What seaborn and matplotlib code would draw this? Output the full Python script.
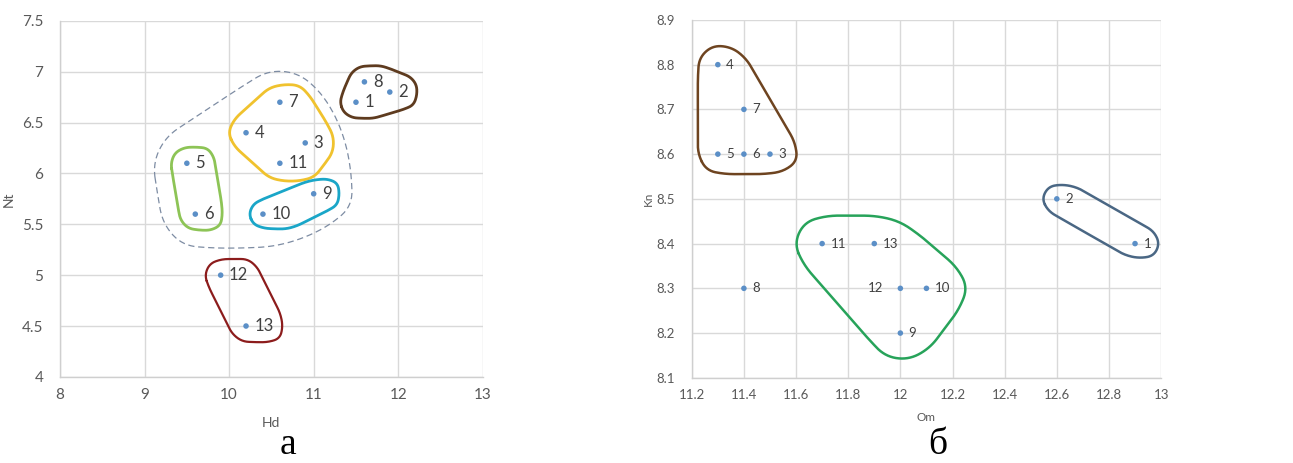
import numpy as np
import pandas as pd
import matplotlib
matplotlib.use("Agg")
import matplotlib.pyplot as plt
import seaborn as sns

# point numbers
ids = list(range(1, 14))

# chart a: Hd vs Nt
hd = [11.5, 11.9, 10.9, 10.2, 9.5, 9.6, 10.6, 11.6, 11.0, 10.4, 10.6, 9.9, 10.2]
nt = [6.7, 6.8, 6.3, 6.4, 6.1, 5.6, 6.7, 6.9, 5.8, 5.6, 6.1, 5.0, 4.5]

# chart b: Om vs Kn
om = [12.9, 12.6, 11.5, 11.3, 11.3, 11.4, 11.4, 11.4, 12.0, 12.1, 11.7, 12.0, 11.9]
kn = [8.4, 8.5, 8.6, 8.8, 8.6, 8.6, 8.7, 8.3, 8.2, 8.3, 8.4, 8.3, 8.4]

# clusters: members, colour, linestyle, linewidth, padding (px)
groups_a = [
    ([3, 4, 5, 6, 7, 9, 10, 11], "#7d8ca3", (0, (5, 3)), 0.9, 34),
    ([1, 2, 8], "#5e3b1f", "-", 2.0, 16),
    ([3, 4, 7, 11], "#f0c22e", "-", 2.0, 18),
    ([5, 6], "#8dc456", "-", 2.0, 16),
    ([9, 10], "#1aa6c8", "-", 2.0, 14),
    ([12, 13], "#8c1c1c", "-", 1.6, 16),
]
groups_b = [
    ([3, 4, 5, 6, 7], "#6e4420", "-", 1.8, 20),
    ([1, 2], "#4a6784", "-", 1.8, 15),
    ([9, 10, 11, 12, 13], "#27a35a", "-", 1.8, 28),
]

df_a = pd.DataFrame({"id": ids, "Hd": hd, "Nt": nt})
df_b = pd.DataFrame({"id": ids, "Om": om, "Kn": kn})

sns.set_theme(style="whitegrid")
plt.rcParams["font.family"] = ["Lato", "DejaVu Sans"]

tick_col = "#595959"
grid_col = "#d9d9d9"
dot_col = "#5b8fc7"


def hull(pts):
    pts = sorted(set(map(tuple, np.round(pts, 3))))
    def cross(o, a, b):
        return (a[0] - o[0]) * (b[1] - o[1]) - (a[1] - o[1]) * (b[0] - o[0])
    lower = []
    for p in pts:
        while len(lower) >= 2 and cross(lower[-2], lower[-1], p) <= 0:
            lower.pop()
        lower.append(p)
    upper = []
    for p in reversed(pts):
        while len(upper) >= 2 and cross(upper[-2], upper[-1], p) <= 0:
            upper.pop()
        upper.append(p)
    return np.array(lower[:-1] + upper[:-1])


def smooth(poly, n=4, k=20):
    # resample the closed hull coarsely, then chaikin corner cutting
    closed = np.vstack([poly, poly[:1]])
    d = np.r_[0, np.cumsum(np.hypot(*np.diff(closed, axis=0).T))]
    s = np.linspace(0, d[-1], k, endpoint=False)
    p = np.c_[np.interp(s, d, closed[:, 0]), np.interp(s, d, closed[:, 1])]
    for _ in range(n):
        q = np.roll(p, -1, axis=0)
        a = 0.75 * p + 0.25 * q
        b = 0.25 * p + 0.75 * q
        p = np.stack([a, b], axis=1).reshape(-1, 2)
    return p


def style_ax(ax, xlim, ylim, xticks, yticks, xlabel, ylabel, fs, xlp, ylp):
    ax.set_xlim(xlim)
    ax.set_ylim(ylim)
    ax.set_xticks(xticks)
    ax.set_yticks(yticks)
    ax.set_xticklabels([f"{t:g}" for t in xticks])
    ax.set_yticklabels([f"{t:g}" for t in yticks])
    ax.grid(True, color=grid_col, lw=1.0)
    for s in ["top", "right"]:
        ax.spines[s].set_visible(False)
    for s in ["left", "bottom"]:
        ax.spines[s].set_color("#cfcfcf")
        ax.spines[s].set_linewidth(1.0)
    ax.tick_params(axis="both", length=0, labelsize=fs, labelcolor=tick_col)
    ax.tick_params(axis="x", pad=8)
    ax.tick_params(axis="y", pad=12)
    ax.set_xlabel(xlabel, fontsize=fs - 1, color=tick_col, labelpad=xlp)
    ax.set_ylabel(ylabel, fontsize=fs - 1, color=tick_col, labelpad=ylp)


def draw_panel(fig, ax, df, xcol, ycol, groups, lab_fs, offsets):
    sns.scatterplot(data=df, x=xcol, y=ycol, ax=ax, color=dot_col, s=16,
                    edgecolor="none", zorder=3, legend=False)
    texts = {}
    for _, r in df.iterrows():
        dx, ha = offsets.get(int(r["id"]), (6, "left"))
        t = ax.annotate(str(int(r["id"])), (r[xcol], r[ycol]), xytext=(dx, 0),
                        textcoords="offset points", ha=ha, va="center",
                        fontsize=lab_fs, color="#404040", zorder=4)
        texts[int(r["id"])] = t
    fig.canvas.draw()
    rend = fig.canvas.get_renderer()
    ang = np.linspace(0, 2 * np.pi, 48, endpoint=False)
    circ = np.c_[np.cos(ang), np.sin(ang)]
    for members, col, ls, lw, pad in groups:
        pts = []
        for m in members:
            r = df[df["id"] == m].iloc[0]
            p = ax.transData.transform((r[xcol], r[ycol]))
            pts.append(p + pad * circ)
            bb = texts[m].get_window_extent(rend)
            for cx, cy in [(bb.x0 + 2, bb.y0 + 3), (bb.x1 - 2, bb.y0 + 3),
                           (bb.x0 + 2, bb.y1 - 3), (bb.x1 - 2, bb.y1 - 3)]:
                pts.append(np.array([cx, cy]) + 0.7 * pad * circ)
        h = smooth(hull(np.vstack(pts)))
        h = np.vstack([h, h[:1]])
        d = ax.transData.inverted().transform(h)
        ax.plot(d[:, 0], d[:, 1], color=col, ls=ls, lw=lw, zorder=2,
                solid_capstyle="round")


fig = plt.figure(figsize=(12.93, 4.63), dpi=100)
ax1 = fig.add_axes([0.0464, 0.186, 0.327, 0.769])
ax2 = fig.add_axes([0.535, 0.184, 0.363, 0.773])

style_ax(ax1, (8, 13), (4, 7.5), [8, 9, 10, 11, 12, 13],
         [4, 4.5, 5, 5.5, 6, 6.5, 7, 7.5], "Hd", "Nt", 11, 11, 5)
style_ax(ax2, (11.2, 13), (8.1, 8.9), list(np.round(np.arange(11.2, 13.01, 0.2), 1)),
         list(np.round(np.arange(8.1, 8.91, 0.1), 1)), "Om", "Kn", 9.5, 8, 2)

draw_panel(fig, ax1, df_a, "Hd", "Nt", groups_a, 12, {})
draw_panel(fig, ax2, df_b, "Om", "Kn", groups_b, 9.5, {12: (-12, "right")})

fig.text(0.223, 0.003, "а", fontsize=27, family="Liberation Serif",
         ha="center", va="bottom", color="black")
fig.text(0.725, 0.003, "б", fontsize=27, family="Liberation Serif",
         ha="center", va="bottom", color="black")

fig.savefig("out.png", dpi=100)
